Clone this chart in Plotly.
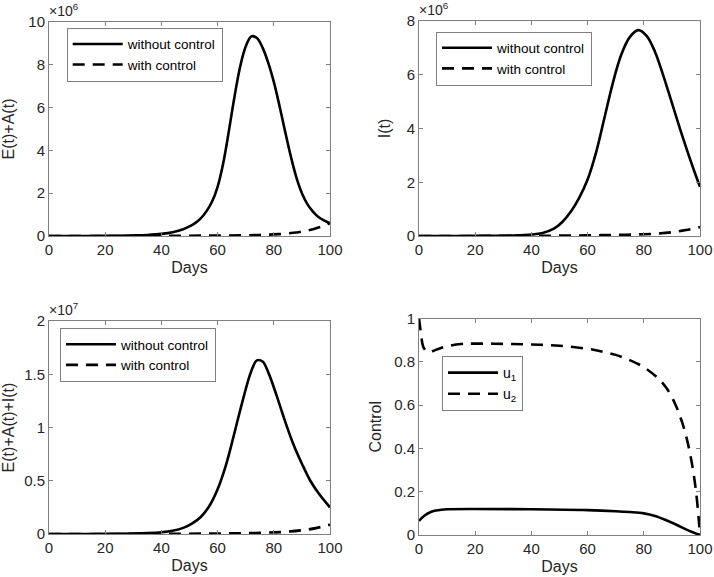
import numpy as np
import plotly.graph_objects as go

# ---------------- data ----------------
# Top-left: E(t)+A(t), units of 1e6
ea_days_wo = [0, 10, 20, 25, 30, 35, 40, 44, 48, 50, 52, 54, 56, 58, 60, 62, 64, 66, 68, 70,
              72, 74, 76, 78, 80, 82, 84, 86, 88, 90, 92, 94, 96, 98, 100]
ea_wo = [0, 0.002, 0.006, 0.012, 0.025, 0.05, 0.1, 0.18, 0.33, 0.45, 0.6, 0.82, 1.15, 1.6, 2.3,
         3.4, 4.9, 6.5, 7.9, 8.85, 9.33, 9.25, 8.8, 8.1, 7.2, 6.1, 4.9, 3.75, 2.75, 2.0, 1.48, 1.13,
         0.88, 0.72, 0.6]
ea_days_w = [0, 20, 40, 50, 60, 70, 75, 80, 85, 88, 91, 94, 97, 100]
ea_w = [0, 0.002, 0.008, 0.013, 0.02, 0.035, 0.05, 0.075, 0.12, 0.16, 0.23, 0.32, 0.44, 0.6]

# Top-right: I(t), units of 1e6
i_days_wo = [0, 10, 20, 30, 35, 40, 44, 48, 51, 54, 57, 60, 63, 66, 69, 72, 75, 78, 81, 84,
             87, 90, 93, 96, 98, 100]
i_wo = [0, 0.001, 0.004, 0.012, 0.025, 0.05, 0.11, 0.27, 0.52, 0.9, 1.42, 2.1, 3.1, 4.4, 5.7,
        6.75, 7.4, 7.66, 7.45, 6.85, 5.95, 4.95, 3.95, 3.0, 2.4, 1.83]
i_days_w = [0, 20, 40, 50, 60, 70, 80, 85, 90, 95, 100]
i_w = [0, 0.002, 0.008, 0.014, 0.025, 0.04, 0.065, 0.09, 0.14, 0.22, 0.33]

# Bottom-left: E(t)+A(t)+I(t), units of 1e7
eai_days_wo = [0, 10, 20, 30, 35, 40, 44, 48, 51, 54, 57, 60, 63, 66, 69, 72, 74, 76, 78, 81,
               84, 87, 90, 93, 96, 100]
eai_wo = [0, 0.0003, 0.001, 0.004, 0.008, 0.016, 0.03, 0.06, 0.1, 0.16, 0.26, 0.42, 0.65, 0.95,
          1.26, 1.53, 1.63, 1.62, 1.52, 1.3, 1.06, 0.84, 0.66, 0.5, 0.38, 0.25]
eai_days_w = [0, 20, 40, 50, 60, 70, 80, 85, 90, 95, 100]
eai_w = [0, 0.0005, 0.0015, 0.003, 0.005, 0.008, 0.015, 0.022, 0.035, 0.055, 0.088]

# Bottom-right: controls
u1_days = [0, 2, 4, 6, 8, 10, 20, 40, 60, 70, 75, 80, 84, 88, 92, 96, 100]
u1 = [0.065, 0.09, 0.105, 0.113, 0.117, 0.119, 0.12, 0.119, 0.115, 0.11, 0.106, 0.1, 0.088,
      0.068, 0.045, 0.02, 0.0]
u2_days = [0, 0.5, 1, 1.5, 2.5, 3.5, 5, 7, 10, 15, 20, 30, 40, 50, 60, 65, 70, 75, 80, 85, 88,
           91, 93, 95, 97, 98.5, 99.5, 100]
u2 = [1.0, 0.95, 0.9, 0.87, 0.85, 0.845, 0.85, 0.86, 0.872, 0.882, 0.884, 0.883, 0.88, 0.874,
      0.86, 0.848, 0.832, 0.808, 0.775, 0.725, 0.68, 0.61, 0.545, 0.46, 0.34, 0.21, 0.08, 0.0]

x_ticks = [0, 20, 40, 60, 80, 100]
tl_ticks = [0, 2, 4, 6, 8, 10]
tr_ticks = [0, 2, 4, 6, 8]
bl_ticks = [0, 0.5, 1, 1.5, 2]
br_ticks = [0, 0.2, 0.4, 0.6, 0.8, 1]

# ---------------- figure ----------------
W, H = 714, 577
FONT = "Liberation Sans, Arial, Helvetica, sans-serif"
AXC = "#808080"
TXT = "#262626"
DASH = "12px,8px"
LW = 2.6

def px_x(p):
    return p / W

def px_y(p):
    return 1 - p / H

fig = go.Figure()

def add(x, y, name, dash, xa, ya, leg, scale=1.0):
    fig.add_trace(go.Scatter(
        x=x, y=np.array(y) * scale, name=name, mode="lines",
        line=dict(color="black", width=LW, dash=dash, shape="spline", smoothing=1.0),
        xaxis=xa, yaxis=ya, legend=leg, hoverinfo="skip"))

add(ea_days_wo, ea_wo, "without control", "solid", "x", "y", "legend", 1e6)
add(ea_days_w, ea_w, "with control", DASH, "x", "y", "legend", 1e6)
add(i_days_wo, i_wo, "without control", "solid", "x2", "y2", "legend2", 1e6)
add(i_days_w, i_w, "with control", DASH, "x2", "y2", "legend2", 1e6)
add(eai_days_wo, eai_wo, "without control", "solid", "x3", "y3", "legend3", 1e7)
add(eai_days_w, eai_w, "with control", DASH, "x3", "y3", "legend3", 1e7)
add(u1_days, u1, "u<sub>1</sub>", "solid", "x4", "y4", "legend4")
add(u2_days, u2, "u<sub>2</sub>", DASH, "x4", "y4", "legend4")

def xax(dom, anchor):
    return dict(domain=dom, anchor=anchor, range=[0, 100], tickvals=x_ticks,
                ticks="inside", ticklen=4, tickcolor=AXC, showline=True, linecolor=AXC,
                linewidth=1, mirror="ticks", showgrid=False, zeroline=False, automargin=False,
                tickfont=dict(size=15, color=TXT, family=FONT),
                title=dict(text="Days", font=dict(size=16, color=TXT, family=FONT), standoff=4))

def yax(dom, anchor, rng, tv, tt, title, standoff):
    return dict(domain=dom, anchor=anchor, range=rng, tickvals=tv, ticktext=tt,
                ticks="inside", ticklen=4, tickcolor=AXC, showline=True, linecolor=AXC,
                linewidth=1, mirror="ticks", showgrid=False, zeroline=False, automargin=False,
                tickfont=dict(size=15, color=TXT, family=FONT),
                title=dict(text=title, font=dict(size=16, color=TXT, family=FONT),
                           standoff=standoff))

xl = [px_x(49), px_x(330)]
xr = [px_x(419), px_x(700)]
ytop_l = [px_y(236), px_y(22)]
ytop_r = [px_y(236), px_y(21)]
ybot_l = [px_y(534), px_y(321)]
ybot_r = [px_y(535), px_y(318.5)]

fig.update_layout(
    xaxis=xax(xl, "y"),
    yaxis=yax(ytop_l, "x", [0, 10e6], [v * 1e6 for v in tl_ticks],
              [str(v) for v in tl_ticks], "E(t)+A(t)", 10),
    xaxis2=xax(xr, "y2"),
    yaxis2=yax(ytop_r, "x2", [0, 8e6], [v * 1e6 for v in tr_ticks],
               [str(v) for v in tr_ticks], "I(t)", 12),
    xaxis3=xax(xl, "y3"),
    yaxis3=yax(ybot_l, "x3", [0, 2e7], [v * 1e7 for v in bl_ticks],
               [("%g" % v) for v in bl_ticks], "E(t)+A(t)+I(t)", 8),
    xaxis4=xax(xr, "y4"),
    yaxis4=yax(ybot_r, "x4", [0, 1], br_ticks, [("%g" % v) for v in br_ticks], "Control", 8),
)

def legend(xp, yp, size=13.5):
    return dict(x=px_x(xp), y=px_y(yp), xanchor="left", yanchor="top",
                bgcolor="white", bordercolor=AXC, borderwidth=1,
                font=dict(size=size, color="black", family=FONT),
                itemwidth=50, tracegroupgap=0, itemclick=False, itemdoubleclick=False)

fig.update_layout(
    legend=legend(66.7, 27.7),
    legend2=legend(436, 31.5),
    legend3=legend(60, 328),
    legend4=legend(442, 356, 14),
)

def expo(xp, yp, txt):
    fig.add_annotation(x=px_x(xp), y=px_y(yp), xref="paper", yref="paper",
                       xanchor="left", yanchor="bottom", showarrow=False,
                       text=txt, font=dict(size=14, color=TXT, family=FONT))

expo(47, 21, "\u00d710<sup>6</sup>")
expo(417, 20, "\u00d710<sup>6</sup>")
expo(47, 320, "\u00d710<sup>7</sup>")

fig.update_layout(width=W, height=H, margin=dict(l=0, r=0, t=0, b=0),
                  paper_bgcolor="white", plot_bgcolor="white", showlegend=True)

fig.write_html("out.html", config={"displayModeBar": False},
               post_script="document.body.style.margin='0px';"
                           "document.body.style.overflow='hidden';")
